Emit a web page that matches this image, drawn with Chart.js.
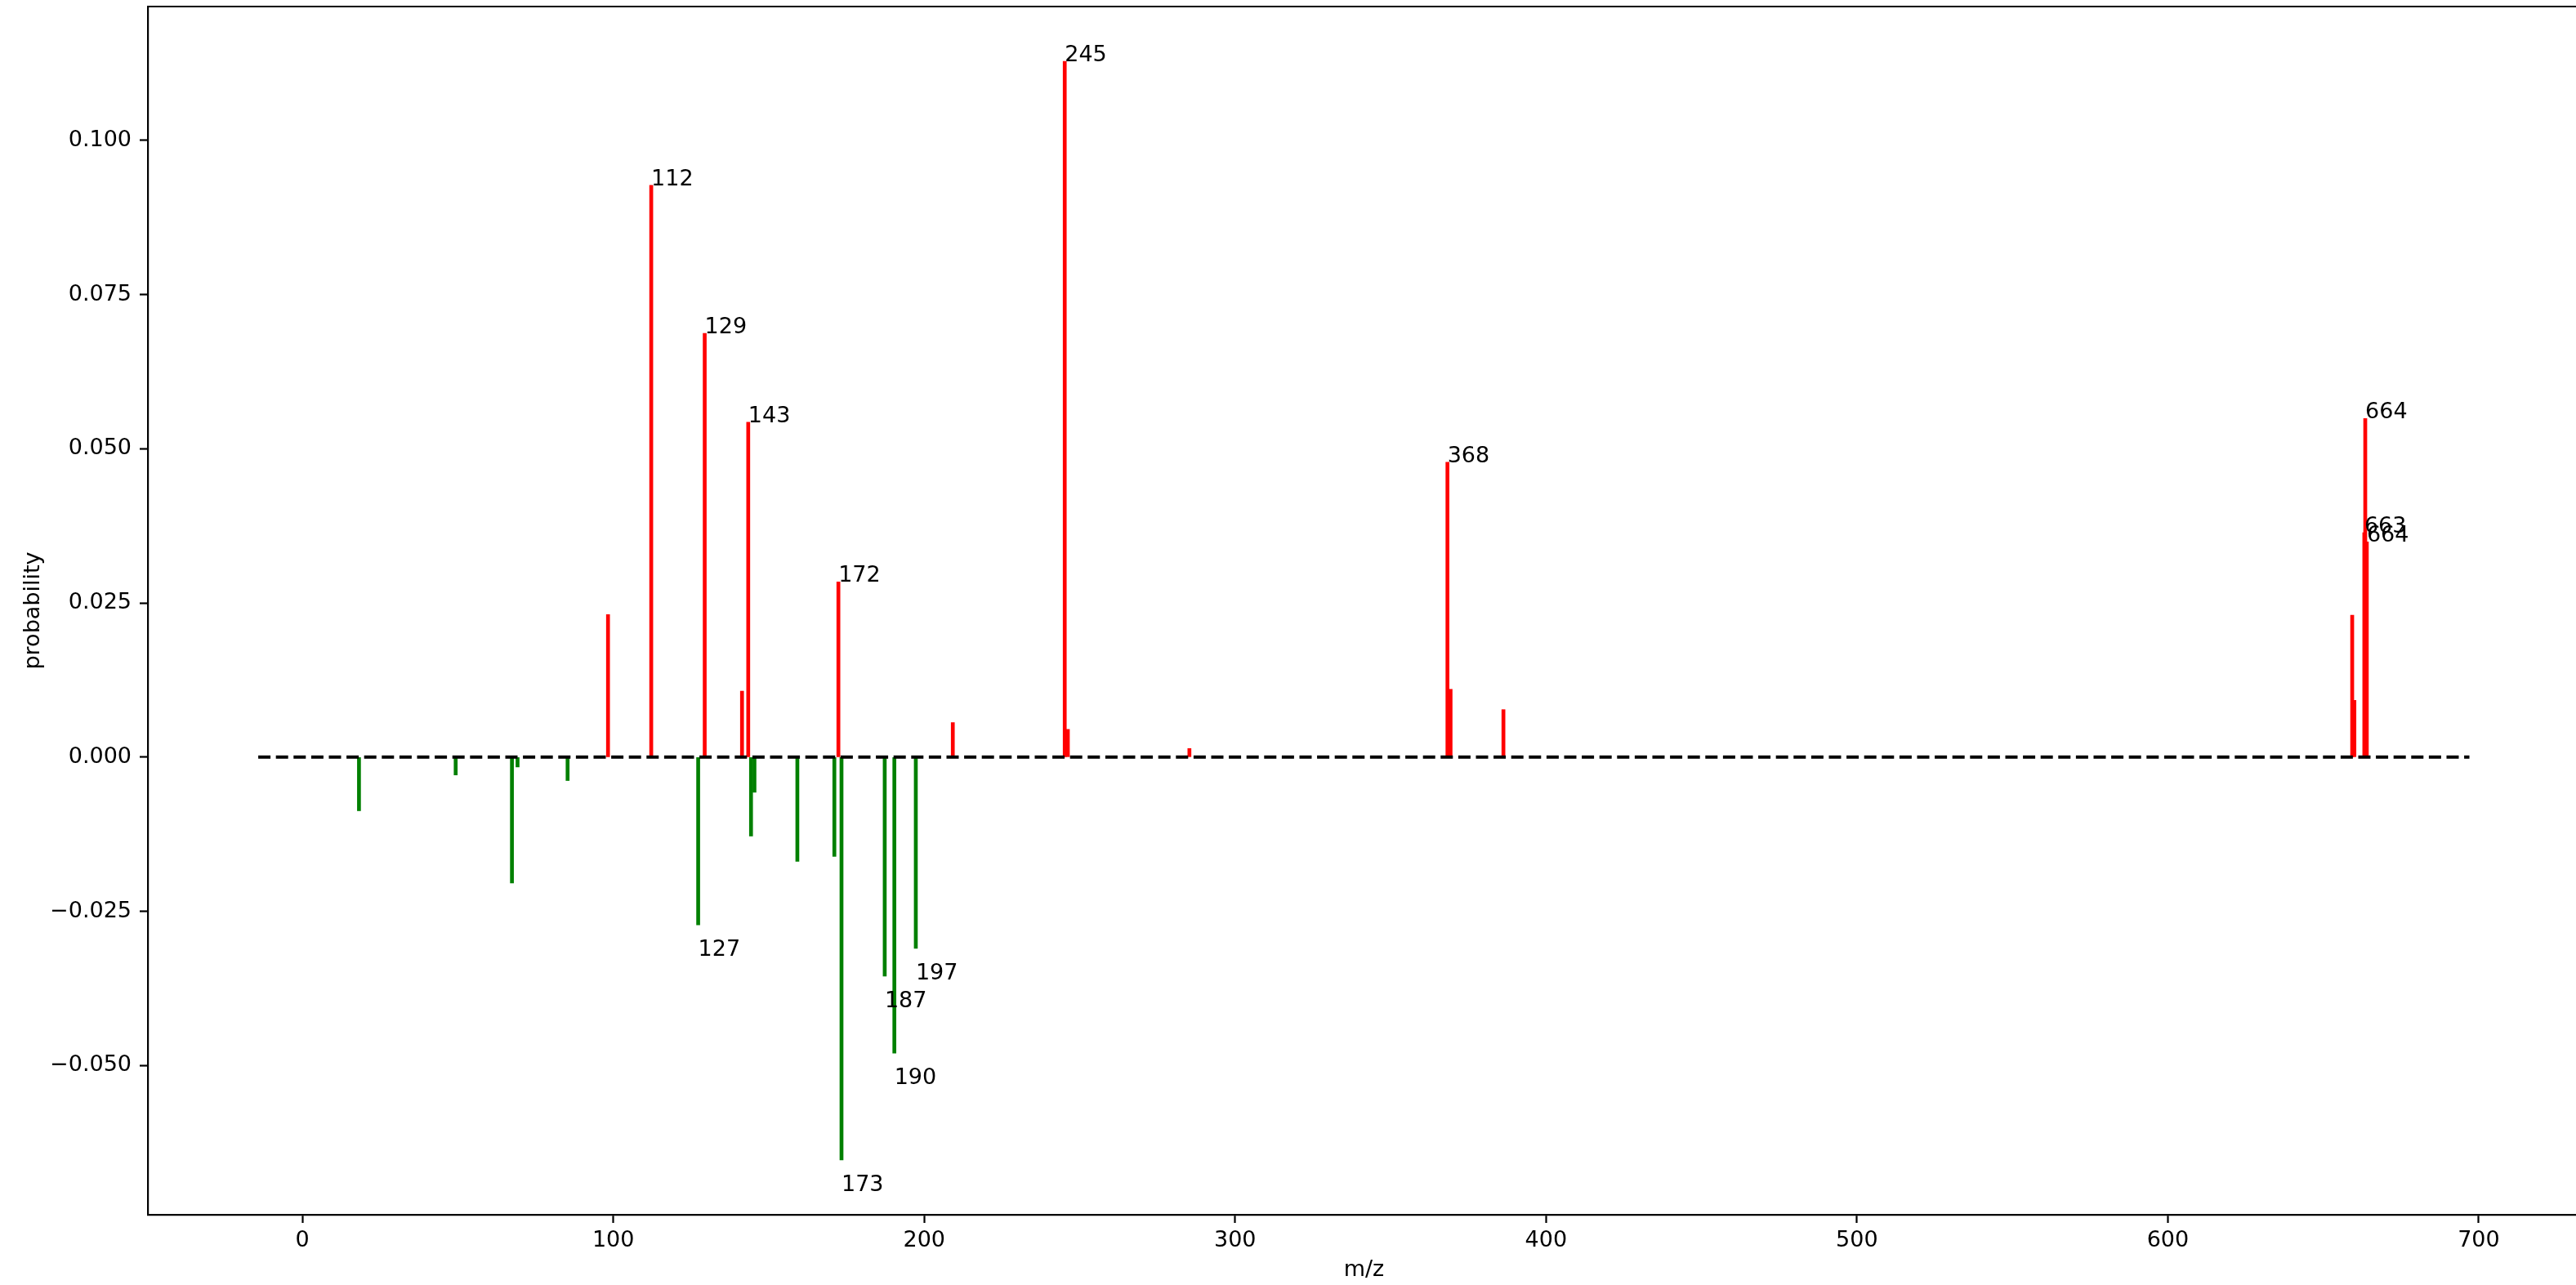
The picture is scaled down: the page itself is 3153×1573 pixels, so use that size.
<!DOCTYPE html>
<html>
<head>
<meta charset="utf-8">
<script src="https://cdn.jsdelivr.net/npm/chart.js@4.4.1/dist/chart.umd.min.js"></script>
<style>
  html, body { margin: 0; padding: 0; background: #fff; overflow: hidden; }
  #wrap { width: 3170px; height: 1573px; }
</style>
</head>
<body>
<div id="wrap"><canvas id="spectrum" width="3170" height="1573"></canvas></div>
<script>
// predicted spectrum (up) vs observed spectrum (down)
const redMz = [98.3, 112.2, 129.4, 141.4, 143.4, 172.4, 209.2, 245.2, 246.2, 285.3,
               368.3, 369.3, 386.3, 659.3, 660.0, 663.2, 663.5, 664.0];
const redProb = [0.0231, 0.0927, 0.0687, 0.0107, 0.0543, 0.0284, 0.0056, 0.1128, 0.0045, 0.0014,
                 0.0478, 0.0110, 0.0077, 0.0230, 0.0092, 0.0364, 0.0549, 0.0349];
const redLabels = ['', '112', '129', '', '143', '172', '', '245', '', '',
                   '368', '', '', '', '', '663', '664', '664'];

const greenMz = [18.2, 49.3, 67.4, 69.2, 85.3, 127.3, 144.3, 145.4, 159.2, 171.1,
                 173.4, 187.3, 190.4, 197.3];
const greenProb = [-0.0087, -0.0029, -0.0204, -0.0016, -0.0038, -0.0272, -0.0128, -0.0057, -0.0169, -0.0161,
                   -0.0653, -0.0355, -0.0480, -0.0310];
const greenLabels = ['', '', '', '', '', '127', '', '', '', '',
                     '173', '187', '190', '197'];

const zeroLineX = [-14.2, 697];
const xTicks = [0, 100, 200, 300, 400, 500, 600, 700];
const yTicks = [-0.05, -0.025, 0, 0.025, 0.05, 0.075, 0.1];

const FONT = { family: 'DejaVu Sans', size: 27 };

// text labels next to the tall peaks
const peakLabels = {
    id: 'peakLabels',
    afterDatasetsDraw(chart) {
        const { ctx, scales: { x, y } } = chart;
        ctx.save();
        ctx.font = '27px "DejaVu Sans"';
        ctx.fillStyle = '#000';
        ctx.textAlign = 'left';
        ctx.textBaseline = 'alphabetic';
        redMz.forEach((mz, i) => {
            if (redLabels[i]) ctx.fillText(redLabels[i], x.getPixelForValue(mz), y.getPixelForValue(redProb[i]));
        });
        greenMz.forEach((mz, i) => {
            if (greenLabels[i]) ctx.fillText(greenLabels[i], x.getPixelForValue(mz), y.getPixelForValue(greenProb[i] - 0.005));
        });
        ctx.restore();
    }
};

// matplotlib style top spine
const topSpine = {
    id: 'topSpine',
    afterDraw(chart) {
        const { ctx, chartArea } = chart;
        ctx.save();
        ctx.strokeStyle = '#000';
        ctx.lineWidth = 2.2;
        ctx.beginPath();
        ctx.moveTo(chartArea.left, chartArea.top);
        ctx.lineTo(chartArea.right, chartArea.top);
        ctx.stroke();
        ctx.restore();
    }
};

new Chart(document.getElementById('spectrum'), {
    type: 'bar',
    data: {
        datasets: [
            {
                type: 'line',
                data: zeroLineX.map(v => ({ x: v, y: 0 })),
                borderColor: '#000',
                borderWidth: 4,
                borderDash: [15, 6.6],
                pointRadius: 0,
                order: 0
            },
            {
                data: redMz.map((v, i) => ({ x: v, y: redProb[i] })),
                backgroundColor: '#ff0000',
                barThickness: 4,
                grouped: false,
                order: 1
            },
            {
                data: greenMz.map((v, i) => ({ x: v, y: greenProb[i] })),
                backgroundColor: '#008000',
                barThickness: 4,
                grouped: false,
                order: 1
            }
        ]
    },
    options: {
        responsive: false,
        devicePixelRatio: 1,
        animation: false,
        layout: { padding: { top: 8, right: 12, left: 0, bottom: 0 } },
        plugins: { legend: { display: false }, tooltip: { enabled: false } },
        scales: {
            x: {
                type: 'linear',
                min: -49.7,
                max: 732.6,
                offset: false,
                afterFit: s => { s.height = 86; s.paddingLeft = 0; s.paddingRight = 0; },
                afterBuildTicks: s => { s.ticks = xTicks.map(v => ({ value: v })); },
                grid: { offset: false, drawOnChartArea: false, drawTicks: true, tickLength: 10, tickWidth: 2.2, tickColor: '#000' },
                border: { display: true, color: '#000', width: 2.2 },
                ticks: { color: '#000', font: FONT, padding: 6, maxRotation: 0 },
                title: { display: true, text: 'm/z', color: '#000', font: FONT, padding: { top: 0, bottom: 2 } }
            },
            y: {
                min: -0.0742,
                max: 0.1217,
                afterFit: s => { s.width = 181; s.paddingTop = 0; s.paddingBottom = 0; },
                afterBuildTicks: s => { s.ticks = yTicks.map(v => ({ value: v })); },
                grid: { drawOnChartArea: false, drawTicks: true, tickLength: 10, tickWidth: 2.2, tickColor: '#000' },
                border: { display: true, color: '#000', width: 2.2 },
                ticks: {
                    color: '#000',
                    font: FONT,
                    padding: 10,
                    callback: v => v.toFixed(3).replace('-', '\u2212')
                },
                title: { display: true, text: 'probability', color: '#000', font: FONT, padding: { top: 25, bottom: 0 } }
            }
        }
    },
    plugins: [peakLabels, topSpine]
});
</script>
</body>
</html>
